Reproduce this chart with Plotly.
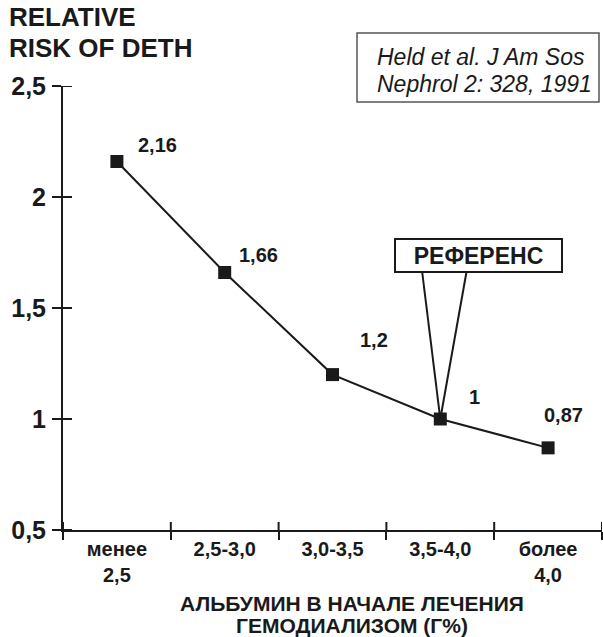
import plotly.graph_objects as go

# ---- data ----
categories = ["менее<br>2,5", "2,5-3,0", "3,0-3,5", "3,5-4,0", "более<br>4,0"]
risk_values = [2.16, 1.66, 1.2, 1.0, 0.87]
y_tick_vals = [0.5, 1.0, 1.5, 2.0, 2.5]
y_tick_text = ["0,5", "1", "1,5", "2", "2,5"]
reference_category = "3,5-4,0"
reference_value = 1.0
reference_label = "РЕФЕРЕНС"
citation_lines = ["Held et al. J Am Sos", "Nephrol 2: 328, 1991"]
y_title_lines = ["RELATIVE", "RISK OF DETH"]
x_title_lines = ["АЛЬБУМИН В НАЧАЛЕ ЛЕЧЕНИЯ", "ГЕМОДИАЛИЗОМ (Г%)"]

FONT = "Liberation Sans, Arial, Helvetica, sans-serif"
INK = "#1a1a1a"

# plot-area geometry in pixels (style only)
L, R, T, B = 63, 602, 86, 530
W, H = R - L, B - T


def px(x):
    return (x - L) / W


def py(y):
    return (B - y) / H


# per-label pixel offsets (style only)
label_shifts = [(41, 16), (34, 17), (41, 35), (34, 22), (15, 33)]

fig = go.Figure()
fig.add_trace(go.Scatter(
    x=categories, y=risk_values, mode="lines+markers",
    line=dict(color=INK, width=2),
    marker=dict(symbol="square", size=13, color=INK),
    hoverinfo="skip", showlegend=False,
))

annotations = []
for cat, v, (dx, dy) in zip(categories, risk_values, label_shifts):
    annotations.append(dict(
        x=cat, y=v, xref="x", yref="y", text=f"{v:g}".replace(".", ","),
        showarrow=False, xshift=dx, yshift=dy,
        font=dict(family=FONT, size=20, color=INK, weight="bold"),
    ))

# reference callout box
annotations.append(dict(
    x=reference_category, y=reference_value, xref="x", yref="y",
    text=reference_label, showarrow=False, xshift=38.5, yshift=163.5,
    font=dict(family=FONT, size=23, color=INK, weight="bold"),
    bordercolor=INK, borderwidth=2, bgcolor="white", width=163, height=29,
))

# citation text (one annotation per line)
for line, yc in zip(citation_lines, (57, 84)):
    annotations.append(dict(
        x=px(375), y=py(yc), xref="paper", yref="paper",
        xanchor="left", yanchor="middle", align="left", showarrow=False,
        text=line, font=dict(family=FONT, size=23, color=INK, style="italic"),
    ))

# y-axis title (top left)
for line, yc in zip(y_title_lines, (17.5, 48)):
    annotations.append(dict(
        x=px(7), y=py(yc), xref="paper", yref="paper",
        xanchor="left", yanchor="middle", showarrow=False, text=line,
        font=dict(family=FONT, size=26, color=INK, weight="bold"),
    ))

# x-axis title (two centred lines)
for line, yc in zip(x_title_lines, (603, 625)):
    annotations.append(dict(
        x=px(352), y=py(yc), xref="paper", yref="paper",
        xanchor="center", yanchor="middle", showarrow=False, text=line,
        font=dict(family=FONT, size=21, color=INK, weight="bold"),
    ))

shapes = []
# citation frame
shapes.append(dict(type="rect", xref="paper", yref="paper",
                   x0=px(357), x1=px(599), y0=py(102), y1=py(33),
                   line=dict(color="#555555", width=1.5), layer="below"))
# callout pointer lines
for x1 in (-18, 26):
    shapes.append(dict(type="line", xref="x", yref="y",
                       xsizemode="pixel", ysizemode="pixel",
                       xanchor=reference_category, yanchor=reference_value,
                       x0=0, y0=0, x1=x1, y1=146,
                       line=dict(color=INK, width=2)))
# inner halves of y ticks (ticks cross the axis)
for v in y_tick_vals:
    shapes.append(dict(type="line", xref="paper", yref="y",
                       xsizemode="pixel", xanchor=0, x0=0, x1=9,
                       y0=v, y1=v, line=dict(color=INK, width=2)))
# inner halves of x ticks at category boundaries
for i in range(len(categories) + 1):
    b = i - 0.5
    shapes.append(dict(type="line", xref="x", yref="paper",
                       ysizemode="pixel", yanchor=0, y0=0, y1=8,
                       x0=b, x1=b, line=dict(color=INK, width=2)))

fig.update_layout(
    width=603, height=637,
    margin=dict(l=L, r=603 - R, t=T, b=637 - B),
    paper_bgcolor="white", plot_bgcolor="white",
    xaxis=dict(
        type="category", range=[-0.5, len(categories) - 0.5],
        tickson="boundaries", ticks="outside", ticklen=8, tickwidth=2,
        tickcolor=INK, showline=True, linecolor=INK, linewidth=2,
        showgrid=False, zeroline=False,
        tickfont=dict(family=FONT, size=20, color=INK, weight="bold"),
    ),
    yaxis=dict(
        range=[0.5, 2.5], tickvals=y_tick_vals, ticktext=y_tick_text,
        ticks="outside", ticklen=9, tickwidth=2, tickcolor=INK,
        showline=True, linecolor=INK, linewidth=2,
        showgrid=False, zeroline=False, ticklabelstandoff=1,
        tickfont=dict(family=FONT, size=25, color=INK, weight="bold"),
    ),
    annotations=annotations,
    shapes=shapes,
)

fig.write_html("out.html", config={"displayModeBar": False},
               post_script="document.body.style.margin='0';")
